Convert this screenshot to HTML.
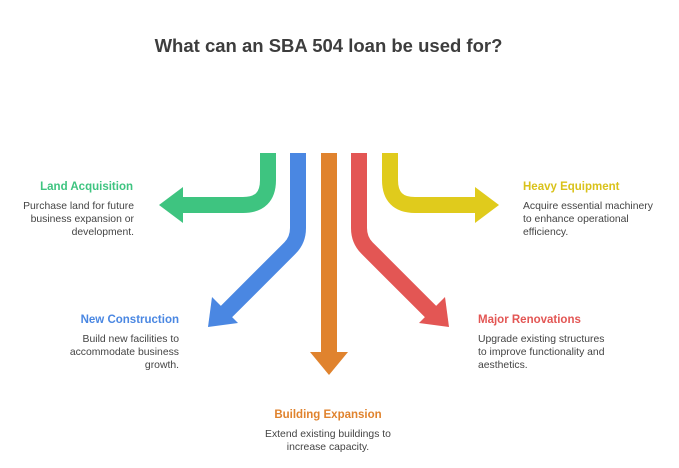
<!DOCTYPE html>
<html><head><meta charset="utf-8"><style>
body{margin:0;width:679px;height:468px;background:#fff;position:relative;overflow:hidden;font-family:"Liberation Sans",sans-serif}
.t{position:absolute;font-weight:bold;font-size:11.5px;white-space:nowrap}
.b{position:absolute;font-size:10.4px;line-height:13px;color:#444;white-space:nowrap}
.r{text-align:right}.c{text-align:center}
</style></head><body>
<div style="position:absolute;left:0;width:657px;top:35px;text-align:center;font-weight:bold;font-size:18.5px;color:#3d3d3d">What can an SBA 504 loan be used for?</div>
<svg width="679" height="468" style="position:absolute;left:0;top:0">
<g fill="none" stroke-width="16">
<path d="M268 153 V180 Q268 205 243 205 H182" stroke="#3ec480"/>
<path d="M298 153 V228 Q298 240 290 248 L224 314" stroke="#4a87e2"/>
<path d="M329 153 V353" stroke="#e0832e"/>
<path d="M359 153 V228 Q359 240 367 248 L433 314" stroke="#e35654"/>
<path d="M390 153 V180 Q390 205 415 205 H476" stroke="#e0cb1c"/>
</g>
<polygon points="183,187 159,205 183,223" fill="#3ec480"/>
<polygon points="212,297 238,323 208,327" fill="#4a87e2"/>
<polygon points="310,352 348,352 329,375" fill="#e0832e"/>
<polygon points="445,297 419,323 449,327" fill="#e35654"/>
<polygon points="475,187 499,205 475,223" fill="#e0cb1c"/>
</svg>
<div class="t r" style="right:546px;top:181px;color:#3ec480">Land Acquisition</div>
<div class="b r" style="right:545px;top:200px">Purchase land for future<br>business expansion or<br>development.</div>
<div class="t r" style="right:500px;top:314px;color:#4a87e2">New Construction</div>
<div class="b r" style="right:500px;top:333px">Build new facilities to<br>accommodate business<br>growth.</div>
<div class="t c" style="left:228px;width:200px;top:409px;color:#e0832e">Building Expansion</div>
<div class="b c" style="left:228px;width:200px;top:428px">Extend existing buildings to<br>increase capacity.</div>
<div class="t" style="left:523px;top:181px;color:#d9c21a">Heavy Equipment</div>
<div class="b" style="left:523px;top:200px">Acquire essential machinery<br>to enhance operational<br>efficiency.</div>
<div class="t" style="left:478px;top:314px;color:#e35654">Major Renovations</div>
<div class="b" style="left:478px;top:333px">Upgrade existing structures<br>to improve functionality and<br>aesthetics.</div>
</body></html>
